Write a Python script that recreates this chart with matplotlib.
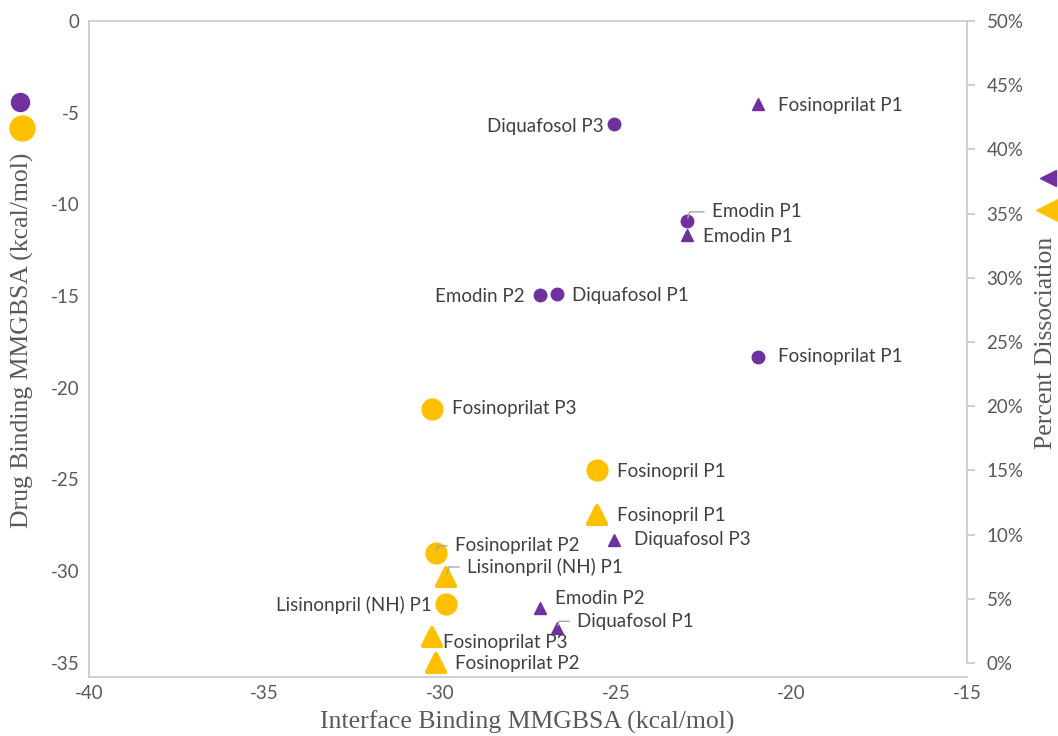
import matplotlib
matplotlib.use("Agg")
import matplotlib.pyplot as plt
from matplotlib.lines import Line2D
from matplotlib.markers import MarkerStyle
from matplotlib.ticker import FuncFormatter

# ---- data -------------------------------------------------------------
# Drug binding energies (circles, left axis)
purple_circle_names = ["Diquafosol P3", "Emodin P1", "Emodin P2", "Diquafosol P1", "Fosinoprilat P1"]
purple_circle_x = [-25.05, -22.97, -27.16, -26.67, -20.95]
purple_circle_y = [-5.6, -10.9, -14.95, -14.9, -18.3]

gold_circle_names = ["Fosinoprilat P3", "Fosinopril P1", "Fosinoprilat P2", "Lisinonpril (NH) P1"]
gold_circle_x = [-30.23, -25.54, -30.12, -29.83]
gold_circle_y = [-21.15, -24.5, -29.0, -31.8]

# Percent dissociation (triangles, right axis)
purple_tri_names = ["Fosinoprilat P1", "Emodin P1", "Diquafosol P3", "Emodin P2", "Diquafosol P1"]
purple_tri_x = [-20.95, -22.97, -25.05, -27.16, -26.67]
purple_tri_y = [0.435, 0.333, 0.096, 0.043, 0.027]

gold_tri_names = ["Fosinopril P1", "Lisinonpril (NH) P1", "Fosinoprilat P3", "Fosinoprilat P2"]
gold_tri_x = [-25.54, -29.83, -30.23, -30.12]
gold_tri_y = [0.115, 0.067, 0.02, 0.0]

x_ticks = [-40, -35, -30, -25, -20, -15]
left_ticks = [0, -5, -10, -15, -20, -25, -30, -35]
right_ticks = [0, 0.05, 0.10, 0.15, 0.20, 0.25, 0.30, 0.35, 0.40, 0.45, 0.50]

PURPLE = "#7030A0"
GOLD = "#FFC000"
GRID_GRAY = "#C8C8C8"
TEXT_GRAY = "#595959"
LABEL_FONT = "Lato"
TITLE_FONT = "Liberation Serif"
LABEL_SIZE = 13.5
TICK_SIZE = 13.5
TITLE_SIZE = 18.5

# label offsets in pixels: (dx, dy, ha, leader)
pc_off = [(-10, -3, "right", False), (25, 9, "left", True), (-15, -1, "right", False),
          (15, -1, "left", False), (20, 0, "left", False)]
gc_off = [(20, 0, "left", False), (20, -1, "left", False), (19, 7, "left", True),
          (-14, -1, "right", False)]
pt_off = [(20, -1, "left", False), (16, -1, "left", False), (20, 0, "left", False),
          (15, 9, "left", False), (20, 7, "left", True)]
gt_off = [(20, 0, "left", False), (21, 10, "left", True), (11, -5, "left", False),
          (19, -1, "left", False)]

W, H = 1058, 736
fig = plt.figure(figsize=(W / 100, H / 100), dpi=100)
L, R, T, B = 89, 967, 21, 677
ax = fig.add_axes([L / W, 1 - B / H, (R - L) / W, (B - T) / H])
ax2 = ax.twinx()

ax.set_xlim(-40, -15)
ax.set_ylim(-35.77, 0)
# right axis: 0% sits at the -35 line, 50% at the top
ax2.set_ylim(-0.5 * 14 / 642, 0.5)

ax.set_xticks(x_ticks)
ax.set_yticks(left_ticks)
ax2.set_yticks(right_ticks)
ax2.yaxis.set_major_formatter(FuncFormatter(lambda v, p: f"{round(v * 100)}%"))
ax.xaxis.set_major_formatter(FuncFormatter(lambda v, p: f"{int(v)}"))
ax.yaxis.set_major_formatter(FuncFormatter(lambda v, p: f"{int(v)}"))

for a in (ax, ax2):
    for s in a.spines.values():
        s.set_color(GRID_GRAY)
        s.set_linewidth(1.2)
ax2.spines["left"].set_visible(False)
ax2.spines["bottom"].set_visible(False)
ax2.spines["top"].set_visible(False)
ax.spines["right"].set_visible(False)
ax2.spines["right"].set_bounds(0, 0.5)

ax.tick_params(axis="both", length=0, labelsize=TICK_SIZE, labelcolor=TEXT_GRAY)
ax.tick_params(axis="x", pad=6)
ax.tick_params(axis="y", pad=7)
ax2.tick_params(axis="y", length=6, width=1.2, color=GRID_GRAY, direction="out",
                labelsize=TICK_SIZE, labelcolor=TEXT_GRAY, pad=8)
for lbl in ax.get_xticklabels() + ax.get_yticklabels() + ax2.get_yticklabels():
    lbl.set_fontfamily(LABEL_FONT)

# markers
round_tri = MarkerStyle("^", joinstyle="round")
ax.plot(purple_circle_x, purple_circle_y, "o", ms=9, color=PURPLE, mec=PURPLE, clip_on=False, zorder=3)
ax.plot(gold_circle_x, gold_circle_y, "o", ms=15, color=GOLD, mec=GOLD, clip_on=False, zorder=3)
ax2.plot(purple_tri_x, purple_tri_y, ls="none", marker="^", ms=9, color=PURPLE, mec=PURPLE,
         clip_on=False, zorder=3)
ax2.plot(gold_tri_x, gold_tri_y, ls="none", marker=round_tri, ms=12.5, color=GOLD, mec=GOLD,
         mew=3, clip_on=False, zorder=3)


def label(axis, xs, ys, names, offs):
    for x, y, n, (dx, dy, ha, leader) in zip(xs, ys, names, offs):
        axis.annotate(n, (x, y), xytext=(dx, dy), textcoords="offset pixels",
                      ha=ha, va="center", fontsize=LABEL_SIZE, color="#404040",
                      fontfamily=LABEL_FONT, zorder=4, annotation_clip=False)
        if leader:
            # short elbow leader from the mark to its label
            axis.annotate("", (x, y), xytext=(dx - 8, dy), textcoords="offset pixels",
                          arrowprops=dict(arrowstyle="-", color="#A6A6A6", lw=1,
                                          shrinkA=0, shrinkB=2,
                                          connectionstyle="angle,angleA=0,angleB=75,rad=0"),
                          zorder=4, annotation_clip=False)


label(ax, purple_circle_x, purple_circle_y, purple_circle_names, pc_off)
label(ax, gold_circle_x, gold_circle_y, gold_circle_names, gc_off)
label(ax2, purple_tri_x, purple_tri_y, purple_tri_names, pt_off)
label(ax2, gold_tri_x, gold_tri_y, gold_tri_names, gt_off)

# axis titles
fig.text(527 / W, 1 - 722 / H, "Interface Binding MMGBSA (kcal/mol)", ha="center", va="center",
         fontsize=TITLE_SIZE, color=TEXT_GRAY, fontfamily=TITLE_FONT)
fig.text(22 / W, 1 - 340 / H, "Drug Binding MMGBSA (kcal/mol)", ha="center", va="center",
         rotation=90, fontsize=TITLE_SIZE, color=TEXT_GRAY, fontfamily=TITLE_FONT)
fig.text(1046 / W, 1 - 343 / H, "Percent Dissociation", ha="center", va="center",
         rotation=90, fontsize=TITLE_SIZE, color=TEXT_GRAY, fontfamily=TITLE_FONT)


# series keys at the figure edges
def key(px, py, marker, ms, color):
    fig.add_artist(Line2D([px / W], [1 - py / H], transform=fig.transFigure, marker=marker,
                          ms=ms, color=color, mec=color, ls="none", clip_on=False))


key(20, 102, "o", 13, PURPLE)
key(22, 128, "o", 18, GOLD)
key(1048, 178, "<", 12, PURPLE)
key(1048, 210, "<", 17, GOLD)

fig.savefig("out.png", dpi=100)
